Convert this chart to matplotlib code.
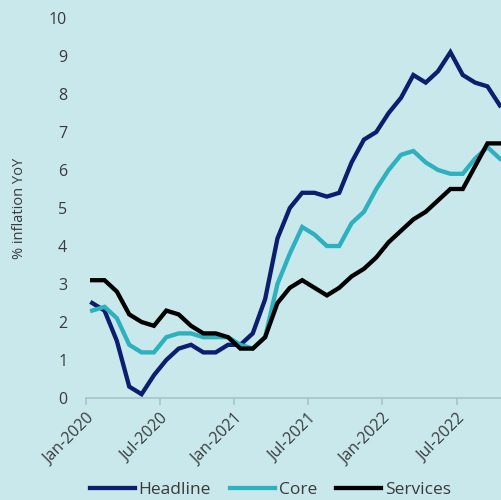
import matplotlib
matplotlib.use("Agg")
import matplotlib.pyplot as plt

plt.rcParams["font.family"] = ["Open Sans", "DejaVu Sans"]

# Monthly YoY inflation, Jan-2020 .. Oct-2022
headline = [2.5, 2.3, 1.5, 0.3, 0.1, 0.6, 1.0, 1.3, 1.4, 1.2, 1.2, 1.4,
            1.4, 1.7, 2.6, 4.2, 5.0, 5.4, 5.4, 5.3, 5.4, 6.2, 6.8, 7.0,
            7.5, 7.9, 8.5, 8.3, 8.6, 9.1, 8.5, 8.3, 8.2, 7.7]
core = [2.3, 2.4, 2.1, 1.4, 1.2, 1.2, 1.6, 1.7, 1.7, 1.6, 1.6, 1.6,
        1.4, 1.3, 1.6, 3.0, 3.8, 4.5, 4.3, 4.0, 4.0, 4.6, 4.9, 5.5,
        6.0, 6.4, 6.5, 6.2, 6.0, 5.9, 5.9, 6.3, 6.6, 6.3]
services = [3.1, 3.1, 2.8, 2.2, 2.0, 1.9, 2.3, 2.2, 1.9, 1.7, 1.7, 1.6,
            1.3, 1.3, 1.6, 2.5, 2.9, 3.1, 2.9, 2.7, 2.9, 3.2, 3.4, 3.7,
            4.1, 4.4, 4.7, 4.9, 5.2, 5.5, 5.5, 6.1, 6.7, 6.7]
tick_labels = ["Jan-2020", "Jul-2020", "Jan-2021", "Jul-2021", "Jan-2022", "Jul-2022"]

bg = "#c8e8eb"
txt = "#3a3a3a"

fig = plt.figure(figsize=(5.02, 5.0), dpi=100, facecolor=bg)
ax = fig.add_axes([86 / 502, 0.204, 420 / 502, 0.76], facecolor=bg)

x = [i + 0.5 for i in range(len(headline))]  # points sit mid-category
ax.plot(x, headline, color="#0c1e6e", lw=3.1, label="Headline", solid_joinstyle="miter")
ax.plot(x, core, color="#2db1bf", lw=3.1, label="Core", solid_joinstyle="miter")
ax.plot(x, services, color="#000000", lw=3.1, label="Services", solid_joinstyle="miter")

ax.set_xlim(0, 34)
ax.set_ylim(0, 10)
ax.set_yticks(range(0, 11))
ax.set_xticks([0, 6, 12, 18, 24, 30])
ax.set_xticklabels(tick_labels, rotation=45, ha="right", rotation_mode="anchor")

for s in ["top", "right", "left"]:
    ax.spines[s].set_visible(False)
ax.spines["bottom"].set_color("#a9c3c7")
ax.spines["bottom"].set_linewidth(1.2)
ax.tick_params(axis="x", colors="#a9c3c7", length=5, width=1.2, labelcolor=txt,
               labelsize=11.5, pad=4)
ax.tick_params(axis="y", length=0, labelcolor=txt, labelsize=11.5, pad=13.5)
ax.set_ylabel("% inflation YoY", color=txt, fontsize=10.5, labelpad=16)

leg = fig.legend(loc="lower left", bbox_to_anchor=(0.148, -0.028), ncol=3,
                 frameon=False, handlelength=2.6, handletextpad=0.2,
                 columnspacing=1.1, fontsize=12.5)
for t in leg.get_texts():
    t.set_color(txt)

fig.savefig("out.png", dpi=100, facecolor=bg)
